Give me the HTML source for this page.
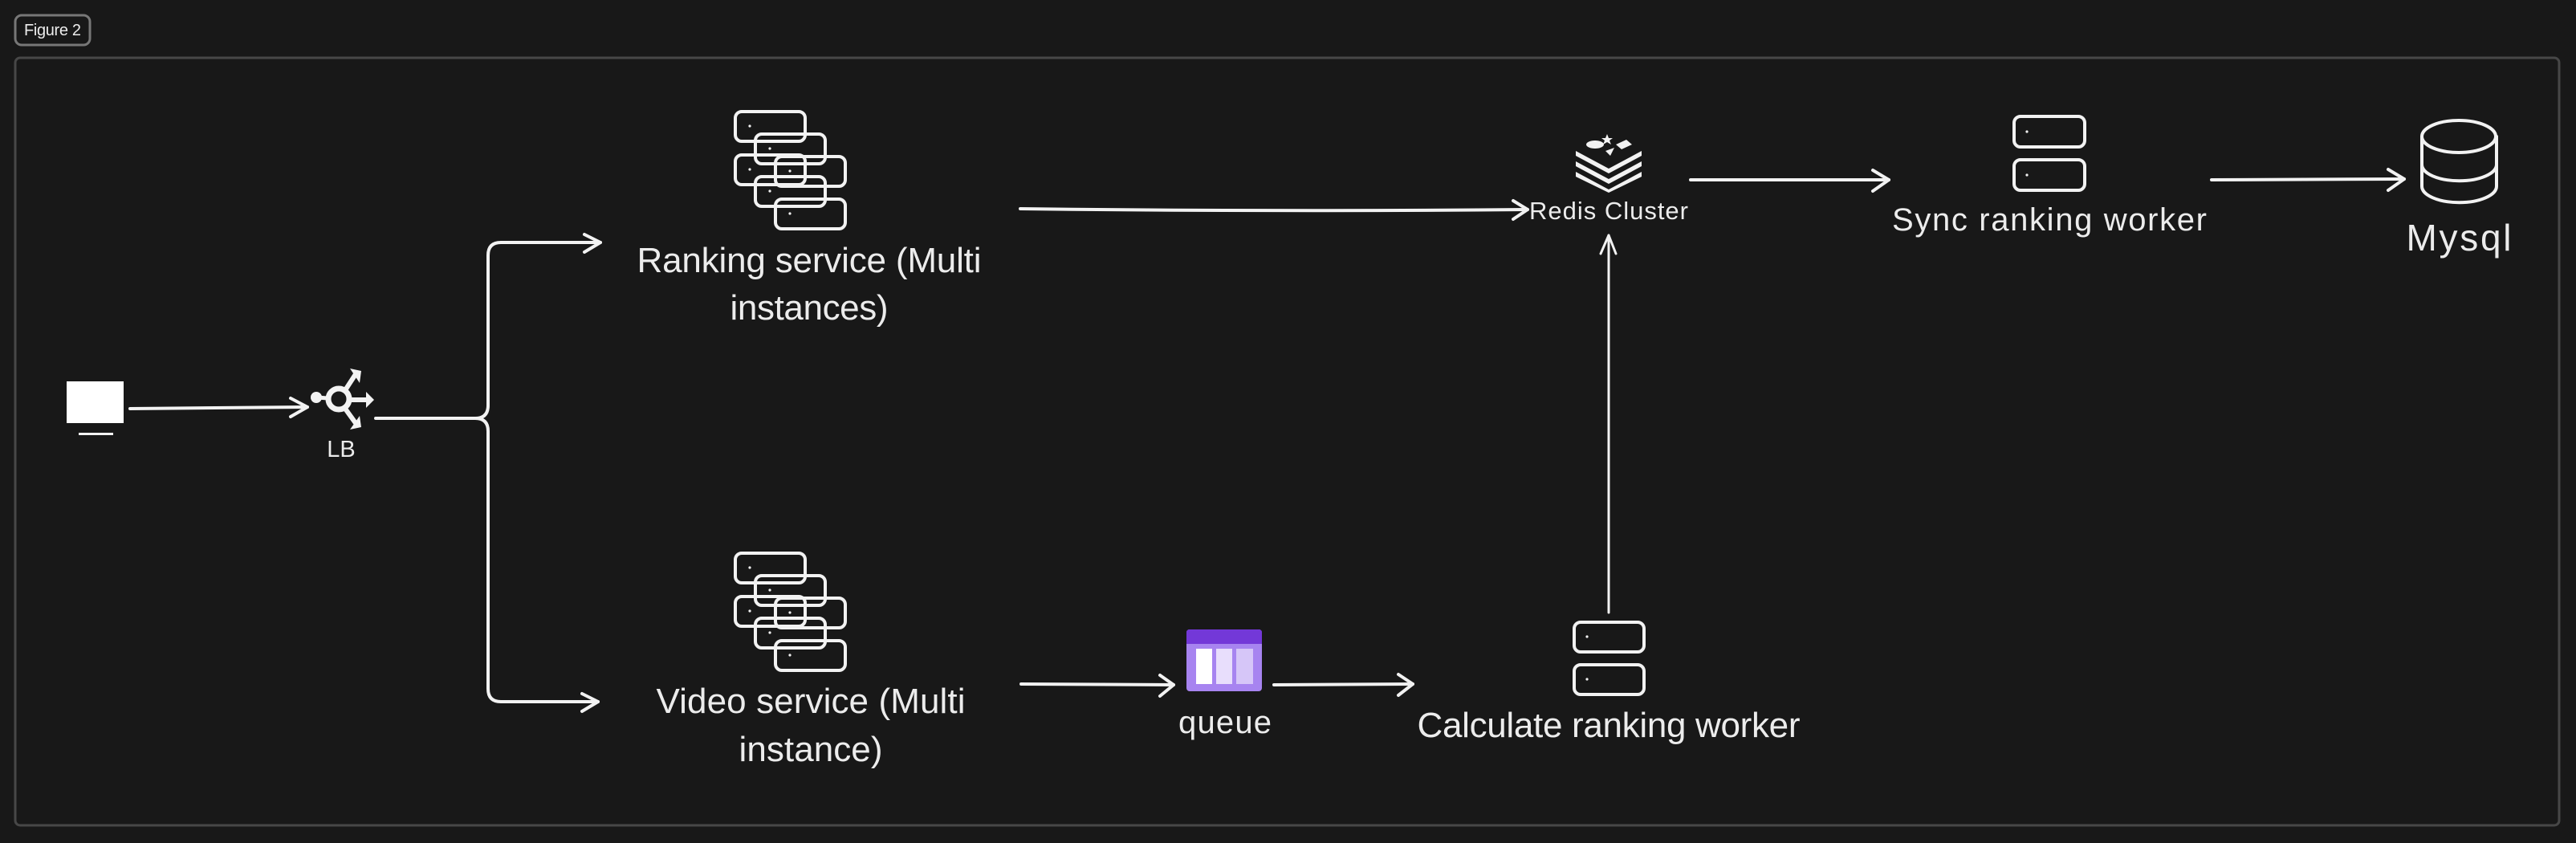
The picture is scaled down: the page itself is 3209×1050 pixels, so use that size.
<!DOCTYPE html>
<html><head><meta charset="utf-8"><style>
html,body{margin:0;padding:0;background:#181818;}
svg{display:block;}
text{font-family:"Liberation Sans",sans-serif;fill:#ececec;}
</style></head><body>
<svg width="3209" height="1050" viewBox="0 0 3209 1050" xmlns="http://www.w3.org/2000/svg">
<rect x="0" y="0" width="3209" height="1050" fill="#181818"/>
<rect x="19" y="19" width="93" height="37" rx="8" fill="none" stroke="#777" stroke-width="3"/>
<text x="30" y="44" font-size="20" textLength="71">Figure 2</text>
<rect x="19" y="72" width="3169" height="956" rx="6" fill="none" stroke="#474747" stroke-width="3"/>

<g fill="none" stroke="#f2f2f2" stroke-width="4" stroke-linecap="round" stroke-linejoin="round">
<path d="M162 509 L383 507"/><path d="M362 496 L383 507 L362 519"/>
<path d="M468 521 L592 521 Q608 521 608 505 L608 318 Q608 302 624 302 L748 302"/><path d="M728 292 L748 302 L728 314"/>
<path d="M592 521 Q608 521 608 537 L608 858 Q608 874 624 874 L745 874"/><path d="M725 864 L745 874 L725 886"/>
<path d="M1271 260 Q1600 264 1903 261"/><path d="M1885 250 L1903 261 L1885 273"/>
<path d="M2004 763 L2004 293" stroke-width="3"/><path d="M1994 316 L2004 293 L2013 316" stroke-width="3"/>
<path d="M2106 224 L2353 224"/><path d="M2333 212 L2353 224 L2333 238"/>
<path d="M2755 224 L2995 223"/><path d="M2975 211 L2995 223 L2975 237"/>
<path d="M1272 852 L1462 853"/><path d="M1445 841 L1462 853 L1445 867"/>
<path d="M1587 853 L1760 852"/><path d="M1742 840 L1760 852 L1742 866"/>

<g>
<rect x="916" y="139" width="87" height="37" rx="8"/>
<rect x="941" y="167" width="87" height="37" rx="8"/>
<rect x="916" y="193" width="87" height="37" rx="8"/>
<rect x="966" y="195" width="87" height="37" rx="8"/>
<rect x="941" y="220" width="87" height="37" rx="8"/>
<rect x="966" y="248" width="87" height="37" rx="8"/>
</g>
<g transform="translate(0,550)">
<rect x="916" y="139" width="87" height="37" rx="8"/>
<rect x="941" y="167" width="87" height="37" rx="8"/>
<rect x="916" y="193" width="87" height="37" rx="8"/>
<rect x="966" y="195" width="87" height="37" rx="8"/>
<rect x="941" y="220" width="87" height="37" rx="8"/>
<rect x="966" y="248" width="87" height="37" rx="8"/>
</g>
<rect x="2509" y="145" width="88" height="38" rx="8"/>
<rect x="2509" y="199" width="88" height="38" rx="8"/>
<rect x="1961" y="775" width="87" height="37" rx="8"/>
<rect x="1961" y="828" width="87" height="37" rx="8"/>
<path d="M3017 170 L3017 232 A46 20 0 0 0 3110 232 L3110 170"/>
<ellipse cx="3063" cy="170" rx="46" ry="20"/>
<path d="M3017 205 A46 20 0 0 0 3110 205"/>
<circle cx="422" cy="497" r="13" stroke-width="7"/>
<path d="M395 495 L408 496" stroke-width="5"/>
<path d="M430 486 L443 466 M436 498 L460 498 M430 509 L443 527" stroke-width="6"/>
</g>
<g fill="#f2f2f2">
<circle cx="934" cy="157" r="1.6"/><circle cx="959" cy="185" r="1.6"/><circle cx="934" cy="211" r="1.6"/><circle cx="984" cy="213" r="1.6"/><circle cx="959" cy="238" r="1.6"/><circle cx="984" cy="266" r="1.6"/>
<circle cx="934" cy="707" r="1.6"/><circle cx="959" cy="735" r="1.6"/><circle cx="934" cy="761" r="1.6"/><circle cx="984" cy="763" r="1.6"/><circle cx="959" cy="788" r="1.6"/><circle cx="984" cy="816" r="1.6"/>
<circle cx="2525" cy="164" r="1.6"/><circle cx="2525" cy="218" r="1.6"/>
<circle cx="1977" cy="793" r="1.6"/><circle cx="1977" cy="846" r="1.6"/>
<rect x="83" y="475" width="71" height="52" fill="#ffffff"/>
<rect x="98" y="539" width="43" height="3"/>
<circle cx="394" cy="495" r="7"/>
<path d="M436 459 L450 462 L448 477 Z M456 488 L466 498 L456 508 Z M436 535 L450 532 L448 518 Z"/>
<path d="M1963 188 L2004 210 L2045 188 L2045 194 L2004 216 L1963 194 Z"/>
<path d="M1963 201 L2004 223 L2045 201 L2045 207 L2004 229 L1963 207 Z"/>
<path d="M1963 214 L2004 236 L2045 214 L2045 220 L2004 240 L1963 220 Z"/>
<ellipse cx="1987" cy="180" rx="11" ry="5"/>
<path d="M2013 180 L2026 174 L2033 180 L2020 186 Z"/>
<path d="M2000 188 L2011 184 L2006 194 Z"/>
<path d="M2002 167 L2004 172 L2009 172 L2005 175 L2007 180 L2002 177 L1997 180 L1999 175 L1995 172 L2000 172 Z"/>
</g>
<rect x="1478" y="784" width="94" height="77" rx="4" fill="#a784f0"/>
<path d="M1482 784 L1568 784 Q1572 784 1572 788 L1572 802 L1478 802 L1478 788 Q1478 784 1482 784 Z" fill="#7338d8"/>
<rect x="1490" y="808" width="20" height="44" fill="#ffffff"/>
<rect x="1515" y="808" width="20" height="44" fill="#e8defc"/>
<rect x="1540" y="808" width="21" height="44" fill="#d6c6f8"/>

<text x="425" y="569" font-size="29" text-anchor="middle">LB</text>
<text x="1008" y="339" font-size="44" text-anchor="middle" textLength="429">Ranking service (Multi</text>
<text x="1008" y="398" font-size="44" text-anchor="middle" textLength="197">instances)</text>
<text x="1010" y="888" font-size="44" text-anchor="middle" textLength="385">Video service (Multi</text>
<text x="1010" y="948" font-size="44" text-anchor="middle" textLength="179">instance)</text>
<text x="1526" y="913" font-size="40" text-anchor="middle" textLength="116">queue</text>
<text x="2004" y="918" font-size="44" text-anchor="middle" textLength="477">Calculate ranking worker</text>
<text x="2004" y="273" font-size="31" text-anchor="middle" textLength="198">Redis Cluster</text>
<text x="2553" y="287" font-size="40" text-anchor="middle" textLength="392">Sync ranking worker</text>
<text x="3063" y="312" font-size="46" text-anchor="middle" textLength="131">Mysql</text>
</svg>
</body></html>
